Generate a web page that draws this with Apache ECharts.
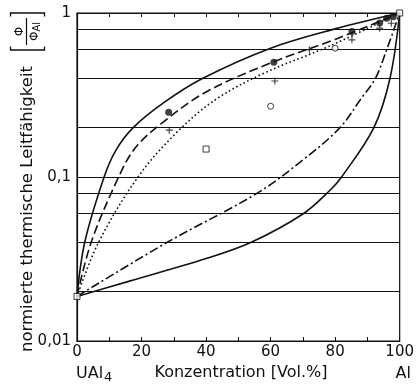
<!DOCTYPE html>
<html><head><meta charset="utf-8">
<script src="https://cdn.jsdelivr.net/npm/echarts@6/dist/echarts.min.js"></script>
<style>html,body{margin:0;padding:0;background:#fff}#c{width:417px;height:387px}</style>
</head><body><div id="c"></div>
<script>
// ---- data ----
const xTickValues = [0, 20, 40, 60, 80, 100];
const yTickValues = [0.01, 0.1, 1];
const yTickLabels = ['0,01', '0,1', '1'];
const gridValues = [0.02, 0.04, 0.06, 0.08, 0.1, 0.2, 0.4, 0.6, 0.8];

const upperSolid = [[0,0.0187],[2.4,0.04],[8.4,0.1],[12,0.145],[17.4,0.2],[27,0.285],[39,0.4],[60,0.61],[80,0.8],[100,1]];
const dashedCurve = [[0,0.0187],[4.4,0.04],[12.9,0.1],[18,0.15],[25.9,0.21],[40,0.33],[60.5,0.5],[80,0.69],[100,1]];
const dottedCurve = [[0,0.0187],[6.7,0.04],[18.9,0.1],[30.9,0.187],[43,0.297],[58,0.43],[78,0.625],[100,1]];
const dashDotCurve = [[0,0.0187],[28,0.04],[56,0.08],[70,0.127],[81.5,0.2],[88,0.3],[92.5,0.4],[96,0.6],[100,1]];
const lowerSolid = [[0,0.0187],[16,0.0231],[40,0.0318],[54,0.04],[70,0.0595],[78.4,0.083],[82,0.1],[92,0.2],[97,0.4],[100,1]];

const filledPts = [[28.4,0.248],[61,0.5],[85.2,0.77],[93.8,0.87],[96,0.93],[98,0.95]];
const plusPts = [[28.6,0.193],[61.3,0.385],[72,0.597],[85.2,0.686],[93.8,0.808],[97.4,0.866]];
const openCirclePts = [[60,0.27],[80,0.61]];
const openSquarePts = [[0,0.0187],[40,0.148],[100,1]];

const yTitle = 'normierte thermische Leitfähigkeit';
const xTitle = 'Konzentration [Vol.%]';
const leftEndLabel = 'UAl';
const leftEndSub = '4';
const rightEndLabel = 'Al';

// ---- chart ----
const FONT = '"DejaVu Sans", sans-serif';
const INK = '#111';
const chart = echarts.init(document.getElementById('c'), null, {renderer: 'canvas'});

function curve(data, type) {
  return {
    type: 'line', data: data, showSymbol: false, symbol: 'none',
    smooth: 0.35, silent: true, z: 3,
    lineStyle: {color: INK, width: 1.6, type: type}
  };
}
const plusPath = 'path://M-0.8,-5H0.8V-0.8H5V0.8H0.8V5H-0.8V0.8H-5V-0.8H-0.8Z';

const option = {
  animation: false,
  backgroundColor: '#fff',
  grid: {left: 77, right: 7, top: 13, bottom: 46, show: true, borderColor: INK, borderWidth: 1.2, backgroundColor: 'transparent'},
  xAxis: [{
    type: 'value', min: 0, max: 100, interval: 10, position: 'bottom',
    axisLine: {show: true, lineStyle: {color: INK, width: 1.2}},
    axisTick: {show: true, inside: true, length: 4, lineStyle: {color: INK}},
    axisLabel: {margin: 4, color: INK, fontFamily: FONT, fontSize: 15,
      formatter: v => xTickValues.indexOf(v) >= 0 ? String(v) : ''},
    splitLine: {show: false}
  }, {
    type: 'value', min: 0, max: 100, interval: 10, position: 'top',
    axisLine: {show: true, lineStyle: {color: INK, width: 1.2}},
    axisTick: {show: true, inside: true, length: 4, lineStyle: {color: INK}},
    axisLabel: {show: false}, splitLine: {show: false}
  }],
  yAxis: {
    type: 'log', logBase: 10, min: 0.01, max: 1,
    axisLine: {show: true, lineStyle: {color: INK, width: 1.2}},
    axisTick: {show: false},
    axisLabel: {margin: 6, color: INK, fontFamily: FONT, fontSize: 15,
      formatter: v => {
        const i = yTickValues.findIndex(t => Math.abs(Math.log10(t) - Math.log10(v)) < 1e-6);
        return i >= 0 ? yTickLabels[i] : '';
      }},
    splitLine: {show: false}, minorSplitLine: {show: false}
  },
  series: [
    Object.assign(curve(upperSolid, 'solid'), {
      markLine: {
        silent: true, symbol: ['none', 'none'], label: {show: false},
        lineStyle: {color: INK, width: 1, type: 'solid'},
        emphasis: {disabled: true},
        data: gridValues.map(v => ({yAxis: v}))
      }
    }),
    curve(dashedCurve, [9, 4]),
    curve(dottedCurve, [1.6, 2.6]),
    curve(dashDotCurve, [9, 3, 2, 3]),
    curve(lowerSolid, 'solid'),
    {type: 'scatter', data: filledPts, symbol: 'circle', symbolSize: 7, z: 5,
      itemStyle: {color: INK}},
    {type: 'scatter', data: plusPts, symbol: plusPath, symbolSize: 7, z: 5,
      itemStyle: {color: INK}},
    {type: 'scatter', data: openCirclePts, symbol: 'circle', symbolSize: 6, z: 5,
      itemStyle: {color: '#fff', borderColor: INK, borderWidth: 1}},
    {type: 'scatter', data: openSquarePts, symbol: 'rect', symbolSize: 6, z: 6,
      itemStyle: {color: '#fff', borderColor: INK, borderWidth: 1}}
  ],
  graphic: [
    {type: 'group', x: 27.5, y: 352, rotation: Math.PI / 2, silent: true, children: [
      {type: 'text', x: 0, y: 0, style: {text: yTitle, font: '16.5px ' + FONT, fill: INK,
        align: 'left', verticalAlign: 'middle', textAlign: 'left', textVerticalAlign: 'middle'}},
      {type: 'polyline', shape: {points: [[305.5,-17],[302,-17],[302,17],[305.5,17]]},
        style: {stroke: INK, lineWidth: 1.3, fill: null}},
      {type: 'polyline', shape: {points: [[335.5,-17],[339,-17],[339,17],[335.5,17]]},
        style: {stroke: INK, lineWidth: 1.3, fill: null}},
      {type: 'text', x: 320.5, y: -8, style: {text: 'Φ', font: '12px ' + FONT, fill: INK,
        align: 'center', verticalAlign: 'middle', textAlign: 'center', textVerticalAlign: 'middle'}},
      {type: 'line', shape: {x1: 307, y1: -1, x2: 334, y2: -1}, style: {stroke: INK, lineWidth: 1.2}},
      {type: 'text', x: 320.5, y: 7.5, style: {text: '{a|Φ}{b|Al}', fill: INK,
        align: 'center', verticalAlign: 'middle', textAlign: 'center', textVerticalAlign: 'middle',
        rich: {a: {font: '12px ' + FONT, fill: INK, color: INK}, b: {font: '10px ' + FONT, fill: INK, color: INK, padding: [4, 0, 0, 0]}}}}
    ]},
    {type: 'text', x: 241, y: 373, silent: true, style: {text: xTitle, font: '16px ' + FONT, fill: INK,
      align: 'center', verticalAlign: 'middle', textAlign: 'center', textVerticalAlign: 'middle'}},
    {type: 'text', x: 76, y: 374, silent: true, style: {text: '{a|' + leftEndLabel + '}{b|' + leftEndSub + '}', fill: INK,
      align: 'left', verticalAlign: 'middle', textAlign: 'left', textVerticalAlign: 'middle',
      rich: {a: {font: '16px ' + FONT, fill: INK, color: INK}, b: {font: '13px ' + FONT, fill: INK, color: INK, padding: [7, 0, 0, 1]}}}},
    {type: 'text', x: 411, y: 374, silent: true, style: {text: rightEndLabel, font: '16px ' + FONT, fill: INK,
      align: 'right', verticalAlign: 'middle', textAlign: 'right', textVerticalAlign: 'middle'}}
  ]
};
chart.setOption(option);
</script></body></html>
